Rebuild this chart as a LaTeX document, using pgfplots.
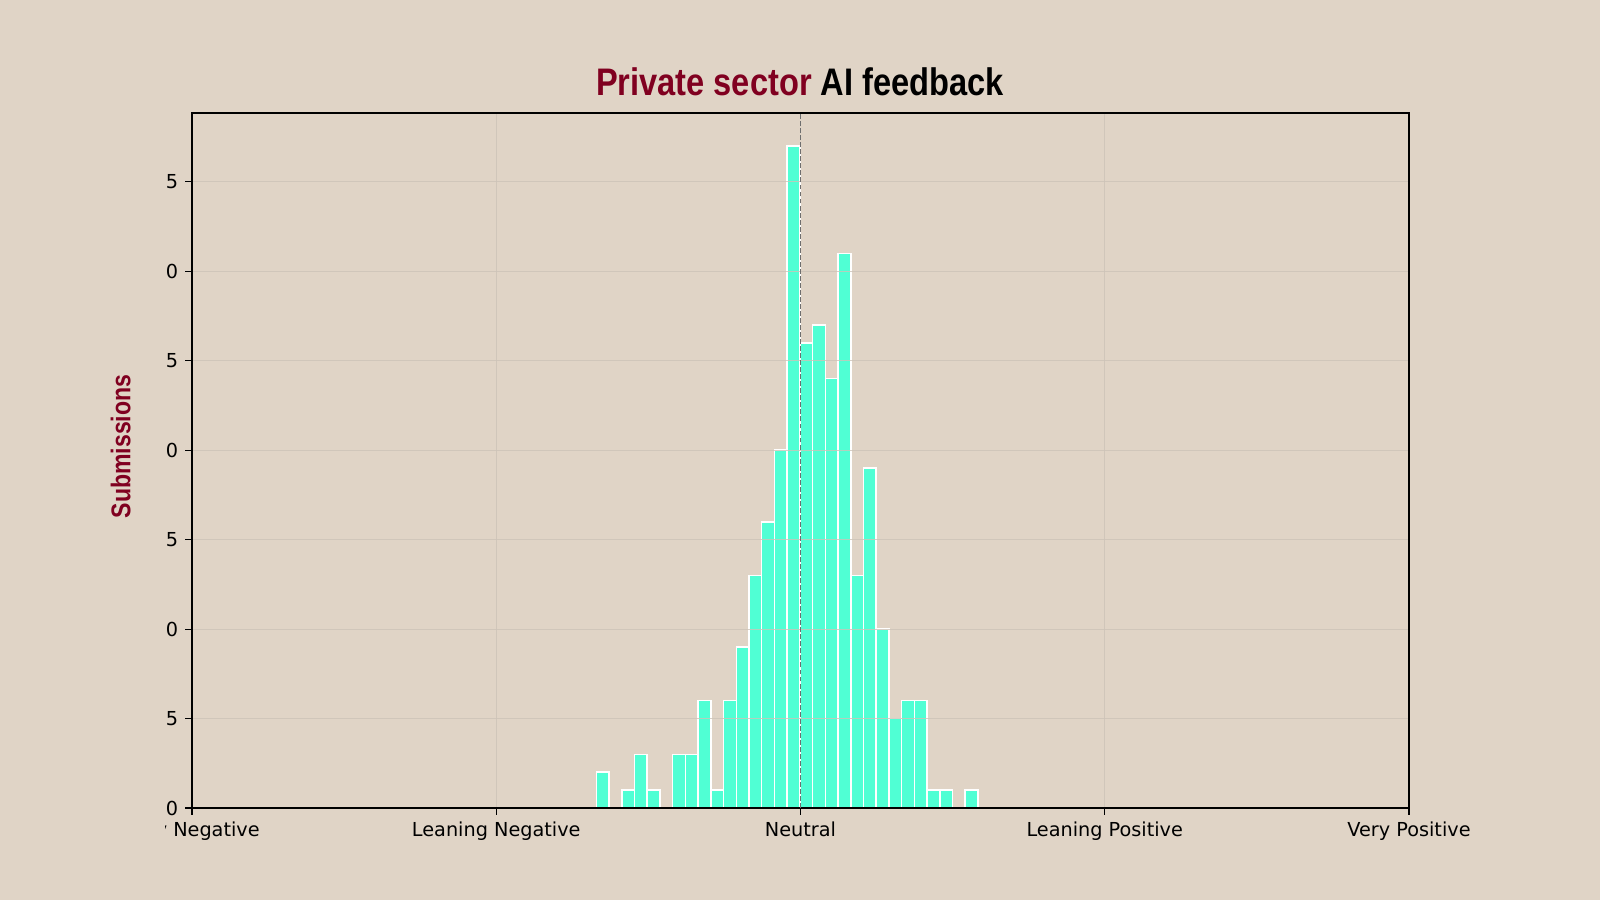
\documentclass[border=0pt]{standalone}
\usepackage{pgfplots}
\pgfplotsset{compat=1.18}
\usepackage{fontspec}
\setmainfont{DejaVu Sans}
\newfontfamily\titlefont{Liberation Sans}
\definecolor{bgc}{RGB}{224,212,198}
\definecolor{titlered}{RGB}{128,0,32}
\definecolor{barc}{RGB}{80,255,212}
\definecolor{gridc}{RGB}{205,195,184}
\definecolor{dashc}{RGB}{110,110,110}
\begin{document}
\begin{tikzpicture}
\useasboundingbox (0,0) rectangle (40cm,22.5cm);
\fill[bgc] (0,0) rectangle (40cm,22.5cm);
\begin{scope}
\clip (4.13cm,0) rectangle (40cm,22.5cm);
\begin{axis}[
  at={(4.8cm,2.3cm)}, anchor=south west,
  width=30.425cm, height=17.375cm, scale only axis,
  xmin=-1, xmax=1, ymin=0, ymax=38.85,
  axis on top,
  axis background/.style={fill=bgc},
  axis line style={black, line width=0.8pt},
  xtick={-1,-0.5,0.5,1},
  xticklabels={Very Negative,Leaning Negative,Leaning Positive,Very Positive},
  extra x ticks={0},
  extra x tick labels={Neutral},
  extra x tick style={major grid style={draw=dashc, opacity=1, line width=1.1pt, dash pattern=on 3.5pt off 1.5pt}},
  ytick={0,5,10,15,20,25,30,35},
  yticklabels={0,5,10,15,20,25,30,35},
  tick align=outside, xtick pos=bottom, ytick pos=left,
  major tick length=0.17cm,
  tick style={black, line width=0.8pt},
  grid=major,
  major grid style={draw=gridc, line width=0.6pt, opacity=0.8},
  ticklabel style={font=\fontsize{13.7}{16}\selectfont, text=black},
  /pgf/number format/assume math mode=true,
  xticklabel style={yshift=-0.05cm},
  yticklabel style={xshift=-0.05cm},
]
\addplot[ybar, bar width=0.0209, bar shift=0pt, fill=barc, draw=white, line width=1.1pt]
table[row sep=\\]{
x y\\
-0.3250 2\\
-0.2832 1\\
-0.2623 3\\
-0.2414 1\\
-0.1996 3\\
-0.1787 3\\
-0.1578 6\\
-0.1369 1\\
-0.1160 6\\
-0.0951 9\\
-0.0742 13\\
-0.0533 16\\
-0.0324 20\\
-0.0115 37\\
0.0095 26\\
0.0304 27\\
0.0513 24\\
0.0722 31\\
0.0931 13\\
0.1140 19\\
0.1349 10\\
0.1558 5\\
0.1767 6\\
0.1976 6\\
0.2185 1\\
0.2394 1\\
0.2812 1\\
};
\end{axis}
\end{scope}
\node[anchor=base] at (20cm,20.11cm) {\scalebox{0.85}[1]{\titlefont\bfseries\fontsize{27.3}{30}\selectfont\textcolor{titlered}{Private sector} AI feedback}};
\node[rotate=90, anchor=center, text=titlered] at (3.02cm,11.34cm) {\scalebox{0.85}[1]{\titlefont\bfseries\fontsize{19.3}{22}\selectfont Submissions}};
\end{tikzpicture}
\end{document}
